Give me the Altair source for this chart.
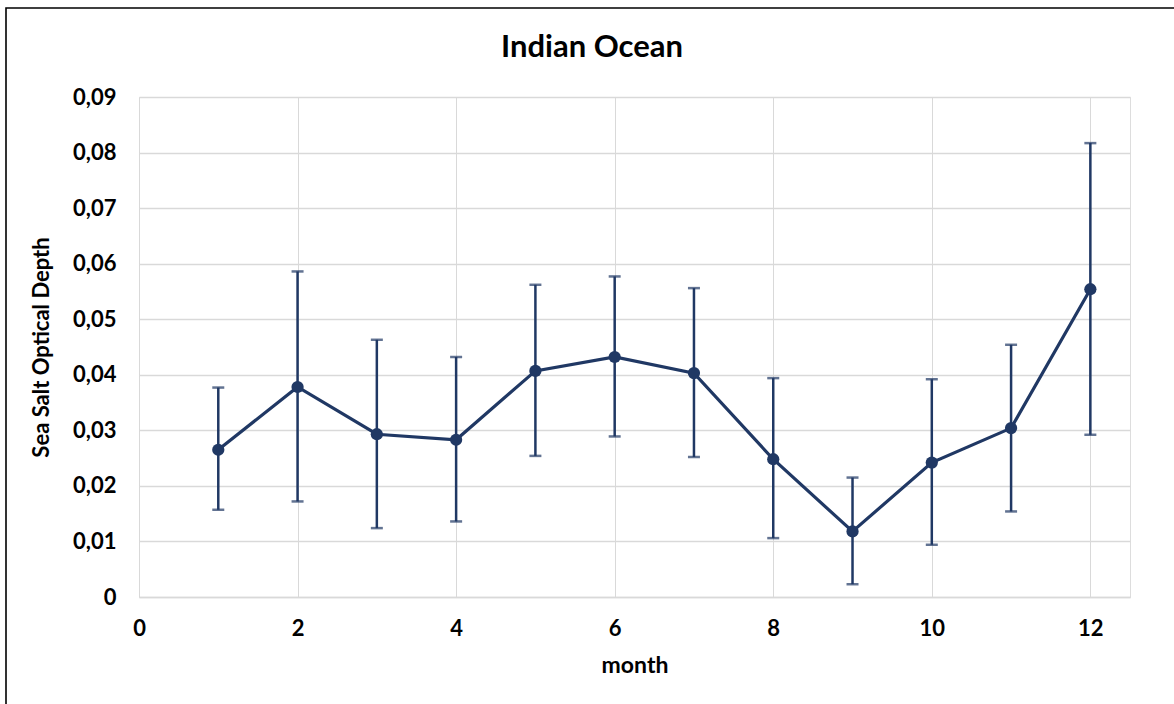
import altair as alt
import pandas as pd

months = [1, 2, 3, 4, 5, 6, 7, 8, 9, 10, 11, 12]
mean_aod = [0.0265, 0.0378, 0.0293, 0.0283, 0.0407, 0.0432, 0.0403, 0.0248, 0.0118, 0.0242, 0.0304, 0.0554]
upper = [0.0377, 0.0586, 0.0463, 0.0432, 0.0562, 0.0577, 0.0556, 0.0394, 0.0215, 0.0392, 0.0454, 0.0817]
lower = [0.0157, 0.0172, 0.0124, 0.0136, 0.0254, 0.0289, 0.0252, 0.0106, 0.0023, 0.0094, 0.0154, 0.0292]
x_ticks = [0, 2, 4, 6, 8, 10, 12]
y_ticks = [0, 0.01, 0.02, 0.03, 0.04, 0.05, 0.06, 0.07, 0.08, 0.09]
chart_title = "Indian Ocean"

df = pd.DataFrame({"month": months, "aod": mean_aod, "hi": upper, "lo": lower})

NAVY = "#203864"
FONT = "Lato"

xscale = alt.Scale(domain=[0, 12.5], nice=False, zero=False)
yscale = alt.Scale(domain=[0, 0.09], nice=False)

xaxis = alt.Axis(
    values=x_ticks, title="month", format="d", grid=True, gridColor="#d9d9d9", gridWidth=1,
    domain=True, domainColor="#d9d9d9", domainWidth=1.5, ticks=False,
    labelPadding=21, labelFontSize=22, labelFont=FONT, labelFontWeight="bold",
    labelColor="#000000", titleFont=FONT, titleFontSize=23, titleFontWeight="bold",
    titleColor="#000000", titleBaseline="alphabetic", titleY=75, labelFlush=False,
)
yaxis = alt.Axis(
    values=y_ticks, title="Sea Salt Optical Depth", grid=True, gridColor="#d9d9d9",
    gridWidth=1.5, domain=False, ticks=False, labelPadding=23, labelFontSize=22,
    labelFont=FONT, labelFontWeight="bold", labelColor="#000000",
    labelExpr="datum.value == 0 ? '0' : replace(format(datum.value, '.2f'), '.', ',')",
    titleFont=FONT, titleFontSize=22, titleFontWeight="bold", titleColor="#000000",
    titleAngle=270, titleBaseline="alphabetic", titleAlign="center", titleX=-91, titleY=250,
)

base = alt.Chart(df)

bars = base.mark_rule(color=NAVY, strokeWidth=2.5).encode(
    x=alt.X("month:Q", scale=xscale, axis=xaxis),
    y=alt.Y("lo:Q", scale=yscale, axis=yaxis),
    y2="hi:Q",
)
cap_hi = base.mark_tick(color=NAVY, orient="horizontal", size=12, thickness=2.5).encode(
    x=alt.X("month:Q", scale=xscale), y=alt.Y("hi:Q", scale=yscale)
)
cap_lo = base.mark_tick(color=NAVY, orient="horizontal", size=12, thickness=2.5).encode(
    x=alt.X("month:Q", scale=xscale), y=alt.Y("lo:Q", scale=yscale)
)
line = base.mark_line(color=NAVY, strokeWidth=3.2).encode(
    x=alt.X("month:Q", scale=xscale), y=alt.Y("aod:Q", scale=yscale)
)
pts = base.mark_circle(color=NAVY, opacity=1, size=150).encode(
    x=alt.X("month:Q", scale=xscale), y=alt.Y("aod:Q", scale=yscale)
)

one = alt.Chart(pd.DataFrame({"t": [chart_title]}))
frame = one.mark_rect(
    filled=False, stroke="#000000", strokeWidth=1.6, fill=None
).encode(
    x=alt.value(-133), x2=alt.value(1100), y=alt.value(-89), y2=alt.value(700)
)
title_txt = one.mark_text(
    font=FONT, fontSize=31, fontWeight="bold", color="#000000",
    align="center", baseline="alphabetic",
).encode(text="t:N", x=alt.value(453), y=alt.value(-40))

chart = alt.layer(frame, title_txt, bars, cap_hi, cap_lo, line, pts).properties(
    width=991,
    height=500,
    autosize=alt.AutoSizeParams(type="none"),
    padding={"left": 139, "top": 97, "right": 44, "bottom": 107},
).configure_view(stroke=None).configure(background="#ffffff")

chart.save("out.html", embed_options={"renderer": "svg", "actions": False})
